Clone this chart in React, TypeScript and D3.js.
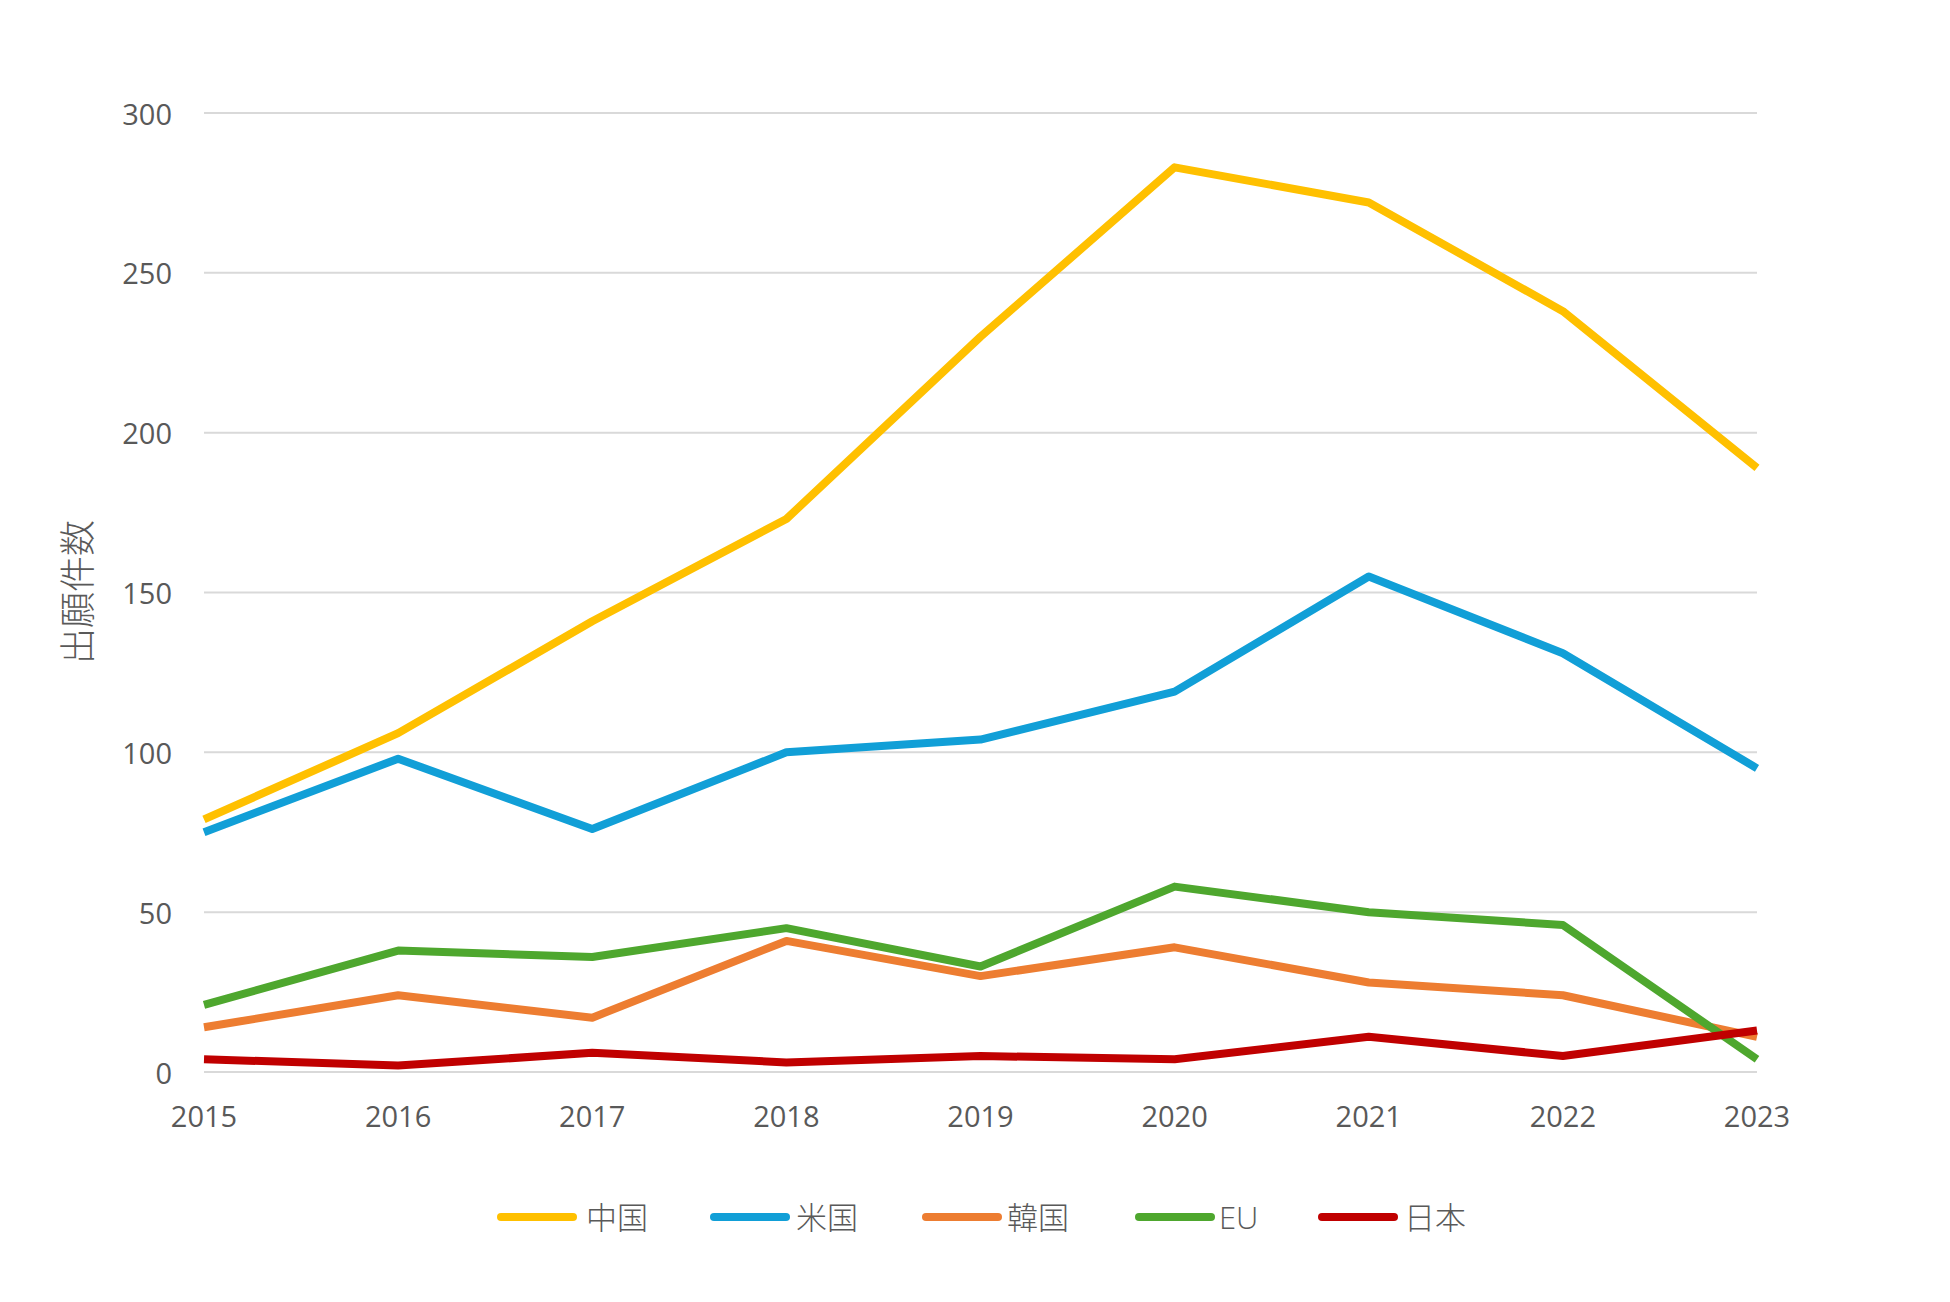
import React from "react"
import * as d3 from "d3"

const years = ["2015", "2016", "2017", "2018", "2019", "2020", "2021", "2022", "2023"]
const yTicks = [0, 50, 100, 150, 200, 250, 300]

const chinaValues = [79, 106, 141, 173, 230, 283, 272, 238, 189]
const usValues = [75, 98, 76, 100, 104, 119, 155, 131, 95]
const koreaValues = [14, 24, 17, 41, 30, 39, 28, 24, 11]
const euValues = [21, 38, 36, 45, 33, 58, 50, 46, 4]
const japanValues = [4, 2, 6, 3, 5, 4, 11, 5, 13]

const seriesNames = ["中国", "米国", "韓国", "EU", "日本"]
const seriesColors = ["#FFC000", "#119FD7", "#ED7D31", "#4EA72E", "#C00000"]

const series = [
  { name: seriesNames[0], color: seriesColors[0], values: chinaValues },
  { name: seriesNames[1], color: seriesColors[1], values: usValues },
  { name: seriesNames[2], color: seriesColors[2], values: koreaValues },
  { name: seriesNames[3], color: seriesColors[3], values: euValues },
  { name: seriesNames[4], color: seriesColors[4], values: japanValues },
]

const W = 1950
const H = 1302
const FONT = "'Open Sans', 'Noto Sans CJK JP', sans-serif"
const TEXT = "#595959"

export default function App() {
  React.useEffect(() => {
    document.body.style.margin = "0"
  }, [])

  const left = 204
  const right = 1757
  const x = d3.scalePoint<string>().domain(years).range([left, right])
  const y = d3.scaleLinear().domain([0, 300]).range([1072, 113])

  const line = d3
    .line<number>()
    .x((_, i) => x(years[i]) as number)
    .y(d => y(d))

  // legend: where each swatch starts, text follows it
  const legendPos = [497, 710, 922, 1135, 1318]
  const legendText = [586, 796, 1007, 1219, 1404]
  const legendY = 1217

  return (
    <svg width={W} height={H} style={{ display: "block", background: "#fff" }} fontFamily={FONT}>
      {yTicks.map(t => (
        <g key={t}>
          <line x1={left} x2={right} y1={y(t)} y2={y(t)} stroke="#D9D9D9" strokeWidth={2} />
          <text
            x={172}
            y={y(t)}
            textAnchor="end"
            dominantBaseline="central"
            fontSize={29}
            fill={TEXT}
          >
            {t}
          </text>
        </g>
      ))}

      {years.map(yr => (
        <text
          key={yr}
          x={x(yr)}
          y={1115}
          textAnchor="middle"
          dominantBaseline="central"
          fontSize={29}
          fill={TEXT}
        >
          {yr}
        </text>
      ))}

      <text
        transform={`translate(77,592) rotate(-90)`}
        textAnchor="middle"
        dominantBaseline="central"
        fontSize={36}
        fontWeight={300}
        fill={TEXT}
      >
        出願件数
      </text>

      {series.map(s => (
        <path
          key={s.name}
          d={line(s.values) || ""}
          fill="none"
          stroke={s.color}
          strokeWidth={8}
          strokeLinejoin="round"
        />
      ))}

      {series.map((s, i) => (
        <g key={s.name}>
          <line
            x1={legendPos[i] + 4}
            x2={legendPos[i] + 76}
            y1={legendY}
            y2={legendY}
            stroke={s.color}
            strokeWidth={8}
            strokeLinecap="round"
          />
          <text
            x={legendText[i]}
            y={legendY}
            dominantBaseline="central"
            fontSize={31}
            fontWeight={300}
            fill={TEXT}
          >
            {s.name}
          </text>
        </g>
      ))}
    </svg>
  )
}
